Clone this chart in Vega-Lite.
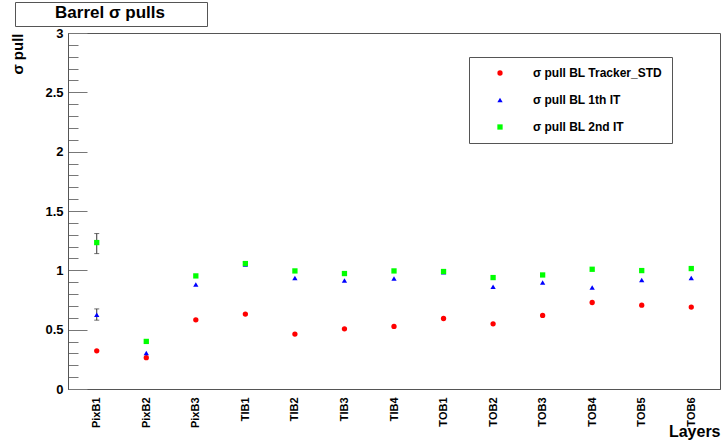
{
  "$schema": "https://vega.github.io/schema/vega-lite/v6.json",
  "width": 652,
  "height": 356,
  "autosize": {"type": "none"},
  "padding": {"left": 68, "top": 33, "right": 3, "bottom": 54},
  "background": "white",
  "config": {
    "view": {"stroke": "#555", "strokeWidth": 1},
    "font": "Liberation Sans"
  },
  "datasets": {
    "pts": [
      {"layer": "PixB1", "series": "σ pull BL Tracker_STD", "value": 0.322},
      {"layer": "PixB2", "series": "σ pull BL Tracker_STD", "value": 0.264},
      {"layer": "PixB3", "series": "σ pull BL Tracker_STD", "value": 0.583},
      {"layer": "TIB1", "series": "σ pull BL Tracker_STD", "value": 0.631},
      {"layer": "TIB2", "series": "σ pull BL Tracker_STD", "value": 0.463},
      {"layer": "TIB3", "series": "σ pull BL Tracker_STD", "value": 0.507},
      {"layer": "TIB4", "series": "σ pull BL Tracker_STD", "value": 0.527},
      {"layer": "TOB1", "series": "σ pull BL Tracker_STD", "value": 0.594},
      {"layer": "TOB2", "series": "σ pull BL Tracker_STD", "value": 0.549},
      {"layer": "TOB3", "series": "σ pull BL Tracker_STD", "value": 0.620},
      {"layer": "TOB4", "series": "σ pull BL Tracker_STD", "value": 0.729},
      {"layer": "TOB5", "series": "σ pull BL Tracker_STD", "value": 0.706},
      {"layer": "TOB6", "series": "σ pull BL Tracker_STD", "value": 0.690},
      {"layer": "PixB1", "series": "σ pull BL 1th IT", "value": 0.625},
      {"layer": "PixB2", "series": "σ pull BL 1th IT", "value": 0.303},
      {"layer": "PixB3", "series": "σ pull BL 1th IT", "value": 0.880},
      {"layer": "TIB1", "series": "σ pull BL 1th IT", "value": 1.050},
      {"layer": "TIB2", "series": "σ pull BL 1th IT", "value": 0.936},
      {"layer": "TIB3", "series": "σ pull BL 1th IT", "value": 0.914},
      {"layer": "TIB4", "series": "σ pull BL 1th IT", "value": 0.931},
      {"layer": "TOB1", "series": "σ pull BL 1th IT", "value": 0.985},
      {"layer": "TOB2", "series": "σ pull BL 1th IT", "value": 0.861},
      {"layer": "TOB3", "series": "σ pull BL 1th IT", "value": 0.897},
      {"layer": "TOB4", "series": "σ pull BL 1th IT", "value": 0.855},
      {"layer": "TOB5", "series": "σ pull BL 1th IT", "value": 0.919},
      {"layer": "TOB6", "series": "σ pull BL 1th IT", "value": 0.936},
      {"layer": "PixB1", "series": "σ pull BL 2nd IT", "value": 1.234},
      {"layer": "PixB2", "series": "σ pull BL 2nd IT", "value": 0.401},
      {"layer": "PixB3", "series": "σ pull BL 2nd IT", "value": 0.953},
      {"layer": "TIB1", "series": "σ pull BL 2nd IT", "value": 1.057},
      {"layer": "TIB2", "series": "σ pull BL 2nd IT", "value": 0.995},
      {"layer": "TIB3", "series": "σ pull BL 2nd IT", "value": 0.973},
      {"layer": "TIB4", "series": "σ pull BL 2nd IT", "value": 0.995},
      {"layer": "TOB1", "series": "σ pull BL 2nd IT", "value": 0.990},
      {"layer": "TOB2", "series": "σ pull BL 2nd IT", "value": 0.939},
      {"layer": "TOB3", "series": "σ pull BL 2nd IT", "value": 0.961},
      {"layer": "TOB4", "series": "σ pull BL 2nd IT", "value": 1.009},
      {"layer": "TOB5", "series": "σ pull BL 2nd IT", "value": 0.998},
      {"layer": "TOB6", "series": "σ pull BL 2nd IT", "value": 1.015}
    ],
    "errs": [
      {"layer": "PixB1", "series": "σ pull BL 1th IT", "lo": 0.580, "hi": 0.675},
      {"layer": "PixB1", "series": "σ pull BL 2nd IT", "lo": 1.141, "hi": 1.310},
      {"layer": "TIB1", "series": "σ pull BL 2nd IT", "lo": 1.045, "hi": 1.070}
    ],
    "box": [{"t": 0}, {"t": 1}]
  },
  "layer": [
    {
      "data": {"name": "errs"},
      "mark": {"type": "rule", "color": "#333", "strokeWidth": 1},
      "encoding": {
        "x": {"field": "layer", "type": "ordinal"},
        "y": {"field": "lo", "type": "quantitative"},
        "y2": {"field": "hi"}
      }
    },
    {
      "data": {"name": "errs"},
      "mark": {"type": "tick", "color": "#333", "thickness": 1, "size": 5, "orient": "horizontal"},
      "encoding": {
        "x": {"field": "layer", "type": "ordinal"},
        "y": {"field": "lo", "type": "quantitative"}
      }
    },
    {
      "data": {"name": "errs"},
      "mark": {"type": "tick", "color": "#333", "thickness": 1, "size": 5, "orient": "horizontal"},
      "encoding": {
        "x": {"field": "layer", "type": "ordinal"},
        "y": {"field": "hi", "type": "quantitative"}
      }
    },
    {
      "data": {"name": "pts"},
      "mark": {"type": "point", "filled": true, "opacity": 1, "size": 28},
      "encoding": {
        "x": {"field": "layer", "type": "ordinal"},
        "y": {"field": "value", "type": "quantitative"},
        "color": {
          "field": "series",
          "type": "nominal",
          "scale": {
            "domain": ["σ pull BL Tracker_STD", "σ pull BL 1th IT", "σ pull BL 2nd IT"],
            "range": ["#ff0000", "#0000ff", "#00ff00"]
          },
          "legend": {
            "orient": "none",
            "legendX": 401,
            "legendY": 24,
            "title": null,
            "strokeColor": "#555",
            "fillColor": "white",
            "padding": 10,
            "symbolOffset": 15,
            "symbolSize": 28,
            "symbolStrokeWidth": 0,
            "labelOffset": 27,
            "labelFont": "Liberation Sans",
            "labelFontWeight": "bold",
            "labelFontSize": 12,
            "labelColor": "black",
            "rowPadding": 15,
            "labelExpr": "datum.label + '          '"
          }
        },
        "shape": {
          "field": "series",
          "type": "nominal",
          "scale": {
            "domain": ["σ pull BL Tracker_STD", "σ pull BL 1th IT", "σ pull BL 2nd IT"],
            "range": ["circle", "triangle-up", "square"]
          }
        }
      }
    },
    {
      "data": {"name": "box"},
      "mark": {"type": "point", "opacity": 0},
      "encoding": {
        "stroke": {
          "field": "t",
          "type": "quantitative",
          "scale": {"range": ["white", "white"]},
          "legend": {
            "orient": "none",
            "legendX": -53,
            "legendY": -31,
            "direction": "horizontal",
            "title": "Barrel σ pulls",
            "titleFont": "Liberation Sans",
            "titleFontWeight": "bold",
            "titleFontSize": 17,
            "titleColor": "black",
            "titleAnchor": "middle",
            "titleAlign": "center",
            "titlePadding": 0,
            "gradientLength": 186,
            "gradientThickness": 1,
            "gradientStrokeWidth": 0,
            "labelFontSize": 0.1,
            "labelOpacity": 0,
            "values": [],
            "strokeColor": "#555",
            "fillColor": "white",
            "padding": 3
          }
        }
      }
    }
  ],
  "encoding": {
    "x": {
      "field": "layer",
      "type": "ordinal",
      "sort": null,
      "scale": {
        "type": "point",
        "padding": 0.58,
        "domain": ["PixB1", "PixB2", "PixB3", "TIB1", "TIB2", "TIB3", "TIB4", "TOB1", "TOB2", "TOB3", "TOB4", "TOB5", "TOB6"]
      },
      "axis": {
        "title": "Layers",
        "titleFont": "Liberation Sans",
        "titleFontWeight": "bold",
        "titleFontSize": 16,
        "titleColor": "black",
        "titleAnchor": "end",
        "titleAlign": "right",
        "titleBaseline": "alphabetic",
        "titleX": 652,
        "titleY": 47,
        "labelAngle": -90,
        "labelFont": "Liberation Sans",
        "labelFontWeight": "bold",
        "labelFontSize": 11,
        "labelColor": "black",
        "labelPadding": 8,
        "ticks": false,
        "domainColor": "#555",
        "grid": false
      }
    },
    "y": {
      "type": "quantitative",
      "scale": {"domain": [0, 3], "nice": false, "zero": true},
      "axis": {
        "title": "σ pull",
        "titleFont": "Liberation Sans",
        "titleFontWeight": "bold",
        "titleFontSize": 15,
        "titleColor": "black",
        "titleAngle": -90,
        "titleAlign": "right",
        "titleBaseline": "alphabetic",
        "titleX": -46,
        "titleY": 0,
        "values": [0, 0.1, 0.2, 0.3, 0.4, 0.5, 0.6, 0.7, 0.8, 0.9, 1, 1.1, 1.2, 1.3, 1.4, 1.5, 1.6, 1.7, 1.8, 1.9, 2, 2.1, 2.2, 2.3, 2.4, 2.5, 2.6, 2.7, 2.8, 2.9, 3],
        "labelExpr": "abs(datum.value*2 - round(datum.value*2)) < 0.01 ? format(datum.value, '~g') : ''",
        "labelFont": "Liberation Sans",
        "labelFontWeight": "bold",
        "labelFontSize": 13,
        "labelColor": "black",
        "labelPadding": 24,
        "tickSize": {"condition": {"test": "abs(datum.value*2 - round(datum.value*2)) < 0.01", "value": -19}, "value": -10},
        "tickColor": "#777",
        "domainColor": "#555",
        "grid": false
      }
    }
  }
}
